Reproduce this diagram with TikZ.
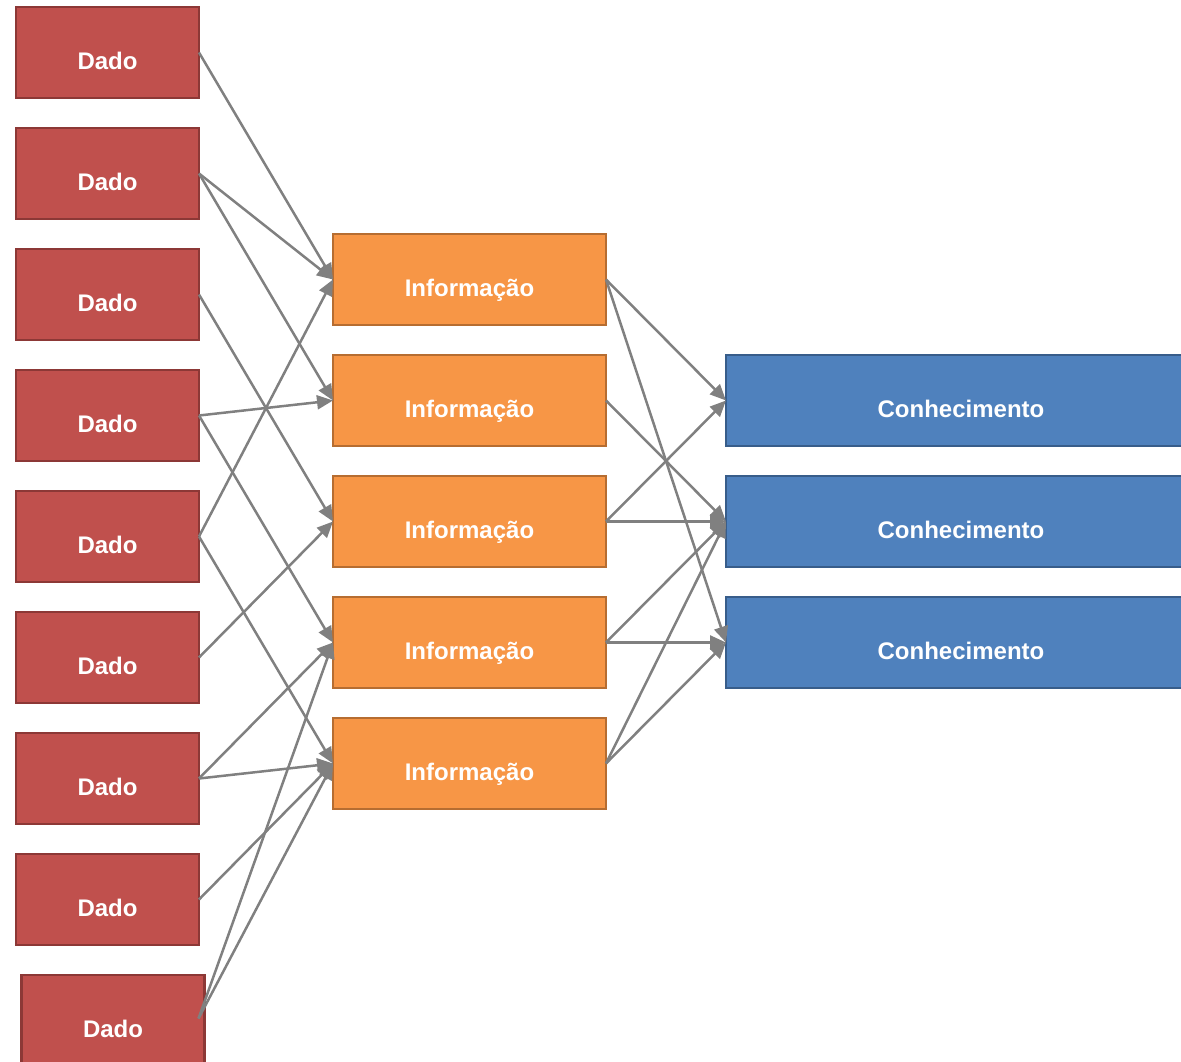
\documentclass[tikz,border=0pt]{standalone}
\usepackage{fontspec}
\setmainfont{Liberation Sans}
\usepackage{xcolor}
\usetikzlibrary{arrows.meta,positioning}

\definecolor{dadofill}{HTML}{C0504D}
\definecolor{dadoline}{HTML}{8C3836}
\definecolor{infofill}{HTML}{F79646}
\definecolor{infoline}{HTML}{B66D31}
\definecolor{conhfill}{HTML}{4F81BD}
\definecolor{conhline}{HTML}{385D8A}
\definecolor{linkgray}{HTML}{808080}

\begin{document}
\begin{tikzpicture}[
  x=1pt, y=-1pt,
  node distance=30pt and 134pt,
  every node/.style={font=\fontsize{24}{28}\selectfont\bfseries, text=white},
  box/.style={rectangle, line width=2.4pt, minimum height=91pt,
              text height=34pt, text depth=0pt, inner sep=0pt, outer sep=0pt},
  dado/.style={box, draw=dadoline, fill=dadofill, minimum width=183pt},
  info/.style={box, draw=infoline, fill=infofill, minimum width=273pt},
  conh/.style={box, draw=conhline, fill=conhfill, minimum width=470pt},
  arrow/.style={-{Triangle[length=16pt,width=14pt]}, draw=linkgray, line width=2.5pt}
]
  \useasboundingbox (0,0) rectangle (1181,1062);

  % dados
  \node[dado]                          (d1) at (107.5,52.5) {Dado};
  \node[dado, below=of d1]             (d2) {Dado};
  \node[dado, below=of d2]             (d3) {Dado};
  \node[dado, below=of d3]             (d4) {Dado};
  \node[dado, below=of d4]             (d5) {Dado};
  \node[dado, below=of d5]             (d6) {Dado};
  \node[dado, below=of d6]             (d7) {Dado};
  \node[dado, below=of d7]             (d8) {Dado};
  \node[dado, below=of d8, xshift=5.5pt] (d9) {Dado};

  % informacao
  \node[info, right=of d3, yshift=15pt] (i1) {Informação};
  \node[info, below=of i1]             (i2) {Informação};
  \node[info, below=of i2]             (i3) {Informação};
  \node[info, below=of i3]             (i4) {Informação};
  \node[info, below=of i4]             (i5) {Informação};

  % conhecimento
  \node[conh, right=120pt of i2]       (c1) {Conhecimento};
  \node[conh, below=of c1]             (c2) {Conhecimento};
  \node[conh, below=of c2]             (c3) {Conhecimento};

  \foreach \a/\b in {d1/i1, d2/i1, d2/i2, d3/i3, d4/i2, d4/i4, d5/i1, d5/i5,
                     d6/i3, d7/i4, d7/i5, d8/i5}
    \draw[arrow] (\a.east) -- (\b.west);
  \draw[arrow] ([xshift=-6pt,yshift=2pt]d9.east) -- (i4.west);
  \draw[arrow] ([xshift=-6pt,yshift=2pt]d9.east) -- (i5.west);

  \foreach \a/\b in {i1/c1, i1/c3, i2/c2, i3/c1, i3/c2, i4/c2, i4/c3, i5/c2, i5/c3}
    \draw[arrow] (\a.east) -- (\b.west);
\end{tikzpicture}
\end{document}
